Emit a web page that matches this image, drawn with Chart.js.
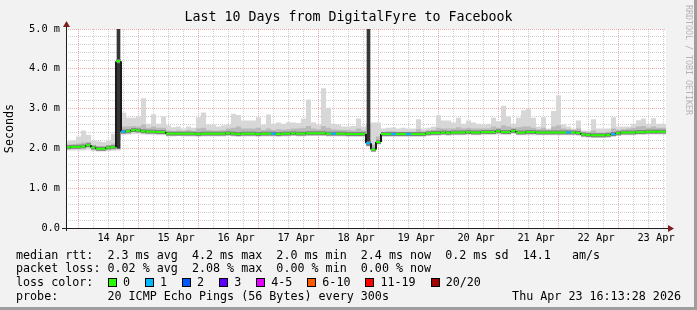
<!DOCTYPE html>
<html>
<head>
<meta charset="utf-8">
<script src="https://cdn.jsdelivr.net/npm/chart.js@4/dist/chart.umd.min.js"></script>
<style>
html,body{margin:0;padding:0;background:#f2f2f2;}
#wrap{position:relative;width:697px;height:310px;overflow:hidden;background:#f2f2f2;}
#c{position:absolute;left:0;top:0;}
.txt{position:absolute;font-family:'DejaVu Sans Mono',monospace;font-size:11.7px;line-height:14px;color:#000;white-space:pre;}
#edgeR{position:absolute;right:0;top:0;width:3px;height:310px;background:#9e9e9e;}
#edgeB{position:absolute;left:0;bottom:0;width:697px;height:3px;background:#9e9e9e;}
#wm{position:absolute;left:684px;top:5px;writing-mode:vertical-rl;font-family:'DejaVu Sans Mono',monospace;font-size:8.3px;color:#b4b4b4;white-space:pre;}
#lossRow{position:absolute;left:108px;top:275px;height:14px;display:flex;align-items:center;font-family:'DejaVu Sans Mono',monospace;font-size:11.7px;white-space:pre;}
.sw{display:inline-block;width:9px;height:9px;box-sizing:border-box;border:1px solid #000;margin-right:6px;}
.lb{margin-right:15px;}
</style>
</head>
<body>
<div id="wrap">
<canvas id="c" width="697" height="310"></canvas>
<div class="txt" style="left:16px;top:248px">median rtt:  2.3 ms avg  4.2 ms max  2.0 ms min  2.4 ms now  0.2 ms sd  14.1   am/s</div>
<div class="txt" style="left:16px;top:261px">packet loss: 0.02 % avg  2.08 % max  0.00 % min  0.00 % now</div>
<div class="txt" style="left:16px;top:275px">loss color:</div>
<div id="lossRow"></div>
<div class="txt" style="left:16px;top:289px">probe:       20 ICMP Echo Pings (56 Bytes) every 300s</div>
<div class="txt" style="right:16px;top:289px">Thu Apr 23 16:13:28 2026</div>
<div id="wm">RRDTOOL / TOBI OETIKER</div>
<div id="edgeR"></div>
<div id="edgeB"></div>
</div>
<script>
// ---- data (values in ms) ----
const dayLabels = ['14 Apr','15 Apr','16 Apr','17 Apr','18 Apr','19 Apr','20 Apr','21 Apr','22 Apr','23 Apr'];
const yTickLabels = ['0.0','1.0 m','2.0 m','3.0 m','4.0 m','5.0 m'];
const lossLabels = ['0','1','2','3','4-5','6-10','11-19','20/20'];
const lossColors = ['#26ff00','#00b8ff','#0059ff','#5e00ff','#e000ff','#ff5a00','#ff0000','#a10000'];

// 2-hour buckets starting 13 Apr 16:00
const median = [
 2.03,2.04,2.04,2.05,2.08,2.02,1.99,1.99,2.02,2.03,
 4.19,2.42,2.43,2.46,2.45,2.43,2.42,2.42,2.41,2.41,
 2.37,2.37,2.37,2.37,2.37,2.37,2.36,2.37,2.37,2.37,
 2.37,2.37,2.38,2.37,2.36,2.37,2.37,2.37,2.36,2.37,
 2.37,2.37,2.36,2.37,2.37,2.38,2.37,2.37,2.38,2.38,
 2.38,2.38,2.37,2.37,2.37,2.37,2.36,2.36,2.36,2.36,
 2.13,1.97,2.16,2.36,2.36,2.36,2.36,2.36,2.36,2.36,
 2.36,2.36,2.38,2.39,2.39,2.40,2.39,2.40,2.40,2.40,
 2.41,2.40,2.40,2.41,2.41,2.41,2.43,2.41,2.41,2.44,
 2.40,2.40,2.41,2.41,2.40,2.40,2.40,2.40,2.40,2.40,
 2.40,2.40,2.39,2.35,2.34,2.33,2.33,2.33,2.34,2.36,
 2.38,2.40,2.40,2.40,2.41,2.41,2.42,2.42,2.42,2.42
];
const lossIndex = [
 0,0,0,0,0,0,0,0,0,0,
 0,1,0,0,0,0,0,0,0,0,
 0,0,0,0,0,0,0,0,0,0,
 0,0,0,0,0,0,0,0,0,0,
 0,1,0,0,0,0,0,0,0,0,
 0,0,0,1,0,0,0,0,0,0,
 1,0,0,0,0,1,0,0,1,0,
 0,0,0,0,0,0,0,0,0,0,
 0,0,0,0,0,0,0,0,0,0,
 0,0,0,0,0,0,0,0,0,0,
 1,0,0,0,0,0,0,0,0,1,
 0,0,0,0,0,0,0,0,0,0
];
const smokeHigh = [
 2.18,2.20,2.30,2.45,2.34,2.20,2.18,2.16,2.20,2.37,
 2.50,2.90,2.77,2.77,2.80,3.26,2.62,2.86,2.62,2.80,
 2.58,2.53,2.55,2.50,2.55,2.52,2.78,2.90,2.60,2.60,
 2.55,2.58,2.60,2.87,2.84,2.70,2.70,2.70,2.78,2.60,
 2.85,2.62,2.65,2.62,2.66,2.65,2.64,2.75,3.23,2.65,
 2.60,3.51,3.02,2.62,2.60,2.55,2.55,2.56,2.75,2.55,
 2.60,2.65,2.65,2.50,2.52,2.53,2.50,2.52,2.50,2.50,
 2.73,2.50,2.52,2.55,2.84,2.70,2.70,2.65,2.77,2.62,
 2.70,2.65,2.62,2.60,2.62,2.77,2.68,3.07,2.80,2.62,
 2.77,2.96,3.00,2.77,2.55,2.78,2.50,2.94,3.33,2.60,
 2.55,2.50,2.70,2.45,2.45,2.73,2.50,2.50,2.50,2.78,
 2.55,2.55,2.55,2.62,2.71,2.75,2.62,2.76,2.62,2.62
];
const smokeMid = [
 2.10,2.10,2.12,2.15,2.16,2.08,2.06,2.06,2.08,2.12,
 2.20,2.55,2.55,2.56,2.55,2.60,2.52,2.55,2.52,2.52,
 2.45,2.44,2.45,2.44,2.46,2.44,2.50,2.52,2.46,2.45,
 2.45,2.46,2.50,2.52,2.55,2.50,2.50,2.50,2.52,2.46,
 2.50,2.46,2.48,2.47,2.48,2.50,2.50,2.52,2.56,2.50,
 2.48,2.56,2.52,2.48,2.47,2.46,2.46,2.45,2.50,2.45,
 2.20,2.10,2.30,2.42,2.43,2.43,2.42,2.42,2.42,2.42,
 2.48,2.43,2.45,2.47,2.52,2.50,2.50,2.50,2.53,2.50,
 2.52,2.50,2.50,2.50,2.50,2.55,2.52,2.58,2.55,2.52,
 2.53,2.55,2.55,2.52,2.48,2.52,2.47,2.55,2.58,2.50,
 2.48,2.47,2.50,2.42,2.40,2.45,2.40,2.40,2.42,2.50,
 2.47,2.48,2.50,2.52,2.55,2.56,2.52,2.55,2.52,2.52
];
const smokeLow = [
 1.95,1.95,1.95,1.95,1.97,1.93,1.92,1.92,1.93,1.94,
 1.95,2.34,2.35,2.37,2.37,2.35,2.34,2.34,2.33,2.33,
 2.30,2.30,2.31,2.30,2.30,2.30,2.29,2.30,2.30,2.30,
 2.30,2.30,2.31,2.30,2.29,2.30,2.30,2.30,2.29,2.30,
 2.30,2.30,2.29,2.30,2.30,2.31,2.30,2.30,2.31,2.31,
 2.31,2.31,2.30,2.30,2.30,2.30,2.29,2.29,2.29,2.29,
 2.05,1.92,2.10,2.29,2.29,2.29,2.29,2.29,2.29,2.29,
 2.29,2.29,2.31,2.32,2.32,2.33,2.32,2.33,2.33,2.33,
 2.34,2.33,2.33,2.34,2.34,2.34,2.35,2.34,2.34,2.36,
 2.33,2.33,2.33,2.33,2.33,2.33,2.33,2.33,2.33,2.33,
 2.33,2.33,2.32,2.28,2.27,2.26,2.26,2.26,2.27,2.29,
 2.31,2.33,2.33,2.33,2.34,2.34,2.35,2.35,2.35,2.35
];
// full-height dark bars (all-pings spread) at two moments
const spikeBuckets = [10, 60];
const spikeLow = [2.00, 2.08];
const spikeHigh = [5.00, 5.00];

// ---- time axis (hours since 13 Apr 00:00) ----
const T_START = 16, T_END = 256, STEP = 2;

function stepPoints(arr) {
  const out = [];
  arr.forEach((v, i) => {
    const x0 = T_START + i * STEP;
    out.push({x: x0, y: v}, {x: x0 + STEP, y: v});
  });
  return out;
}

// loss color legend
const row = document.getElementById('lossRow');
lossLabels.forEach((lab, i) => {
  const s = document.createElement('span'); s.className = 'sw'; s.style.background = lossColors[i]; row.appendChild(s);
  const t = document.createElement('span'); t.className = 'lb'; t.textContent = lab; row.appendChild(t);
});

const MONO = "'DejaVu Sans Mono', monospace";
const minorGrid = 'rgba(140,140,140,0.42)';
const majorGrid = 'rgba(222,79,79,0.45)';

const xTicks = []; for (let h = 18; h <= 252; h += 6) xTicks.push(h);
const yTicks = []; for (let k = 0; k <= 25; k++) yTicks.push(k / 5);

const rrdPlugin = {
  id: 'rrd',
  beforeDraw(chart) {
    const {ctx, chartArea: a} = chart;
    ctx.save();
    ctx.fillStyle = '#f2f2f2'; ctx.fillRect(0, 0, chart.width, chart.height);
    ctx.fillStyle = '#ffffff'; ctx.fillRect(a.left, a.top, a.right - a.left, a.bottom - a.top);
    ctx.restore();
  },
  afterDatasetsDraw(chart) {
    const {ctx, chartArea: a} = chart;
    const y0 = Math.round(a.bottom) + 0.5, x0 = Math.round(a.left) + 0.5;
    ctx.save();
    ctx.strokeStyle = '#1f1f1f'; ctx.lineWidth = 1;
    ctx.beginPath();
    ctx.moveTo(a.left - 4, y0); ctx.lineTo(a.right + 3, y0);
    ctx.moveTo(x0, a.bottom + 3); ctx.lineTo(x0, a.top - 3);
    ctx.stroke();
    ctx.fillStyle = '#7f1f1f';
    ctx.beginPath();
    ctx.moveTo(a.right + 8, y0); ctx.lineTo(a.right + 2, y0 - 3.5); ctx.lineTo(a.right + 2, y0 + 3.5); ctx.closePath(); ctx.fill();
    ctx.beginPath();
    ctx.moveTo(x0, a.top - 8); ctx.lineTo(x0 - 3.5, a.top - 2); ctx.lineTo(x0 + 3.5, a.top - 2); ctx.closePath(); ctx.fill();
    ctx.restore();
  }
};

const clear = 'rgba(0,0,0,0)';
const lineBase = {type: 'line', pointRadius: 0, tension: 0, borderWidth: 0, borderColor: clear, fill: false};

new Chart(document.getElementById('c'), {
  type: 'line',
  data: {
    datasets: [
      Object.assign({}, lineBase, {label: 'low', data: stepPoints(smokeLow), order: 10}),
      Object.assign({}, lineBase, {label: 'high', data: stepPoints(smokeHigh), fill: '-1', backgroundColor: '#d7d7d7', order: 10}),
      Object.assign({}, lineBase, {label: 'medbase', data: stepPoints(median), order: 8}),
      Object.assign({}, lineBase, {label: 'mid', data: stepPoints(smokeMid), fill: '-1', backgroundColor: '#bababa', order: 8}),
      {type: 'bar', label: 'spikes', order: 6, grouped: false, barThickness: 3,
       backgroundColor: '#363636', borderWidth: 0,
       data: spikeBuckets.map((b, k) => ({x: T_START + b * STEP + STEP / 2, y: [spikeLow[k], spikeHigh[k]]}))},
      Object.assign({}, lineBase, {label: 'halo', data: stepPoints(median), borderWidth: 4, order: 5,
       segment: {borderColor: c => (c.p0DataIndex % 2 === 1 ? clear : '#808080')}}),
      Object.assign({}, lineBase, {label: 'median', data: stepPoints(median), borderWidth: 2, order: 1,
       borderColor: lossColors[0],
       segment: {borderColor: c => (c.p0DataIndex % 2 === 1 ? '#1a1a1a' : lossColors[lossIndex[c.p0DataIndex >> 1]])}})
    ]
  },
  options: {
    responsive: false,
    animation: false,
    events: [],
    layout: {padding: 0, autoPadding: false},
    plugins: {
      legend: {display: false},
      tooltip: {enabled: false},
      title: {display: true, text: 'Last 10 Days from DigitalFyre to Facebook', color: '#000',
        font: {family: MONO, size: 13.3, weight: 'normal', lineHeight: '16px'}, padding: {top: 10, bottom: 3}}
    },
    scales: {
      x: {
        type: 'linear', position: 'bottom', min: T_START, max: T_END, offset: false,
        afterBuildTicks: s => { s.ticks = xTicks.map(v => ({value: v})); },
        afterFit: s => { s.height = 82; },
        grid: {color: c => (c.tick && c.tick.value % 24 === 0 ? majorGrid : minorGrid), lineWidth: 1, drawTicks: false},
        border: {display: false, dash: [1, 1]},
        ticks: {autoSkip: false, maxRotation: 0, minRotation: 0, padding: 4, color: '#000',
          font: {family: MONO, size: 10.3},
          callback: v => { const k = (v - 36) / 24; return (Number.isInteger(k) && k >= 0 && k < dayLabels.length) ? dayLabels[k] : ''; }}
      },
      y: {
        type: 'linear', position: 'left', min: 0, max: 5,
        afterBuildTicks: s => { s.ticks = yTicks.map(v => ({value: v})); },
        afterFit: s => { s.width = 66; },
        grid: {color: c => (c.tick && Math.abs(c.tick.value - Math.round(c.tick.value)) < 1e-6 ? majorGrid : minorGrid), lineWidth: 1, drawTicks: false},
        border: {display: false, dash: [1, 1]},
        ticks: {autoSkip: false, padding: 6, color: '#000', font: {family: MONO, size: 10.3},
          callback: v => { const r = Math.round(v); return Math.abs(v - r) < 1e-6 ? yTickLabels[r] : ''; }},
        title: {display: true, text: 'Seconds', color: '#000', font: {family: MONO, size: 11.7}, padding: {top: 3, bottom: 0}}
      },
      yr: {
        type: 'linear', position: 'right', display: true,
        afterFit: s => { s.width = 31; },
        grid: {display: false, drawTicks: false}, border: {display: false}, ticks: {display: false}
      }
    }
  },
  plugins: [rrdPlugin]
});
</script>
</body>
</html>
